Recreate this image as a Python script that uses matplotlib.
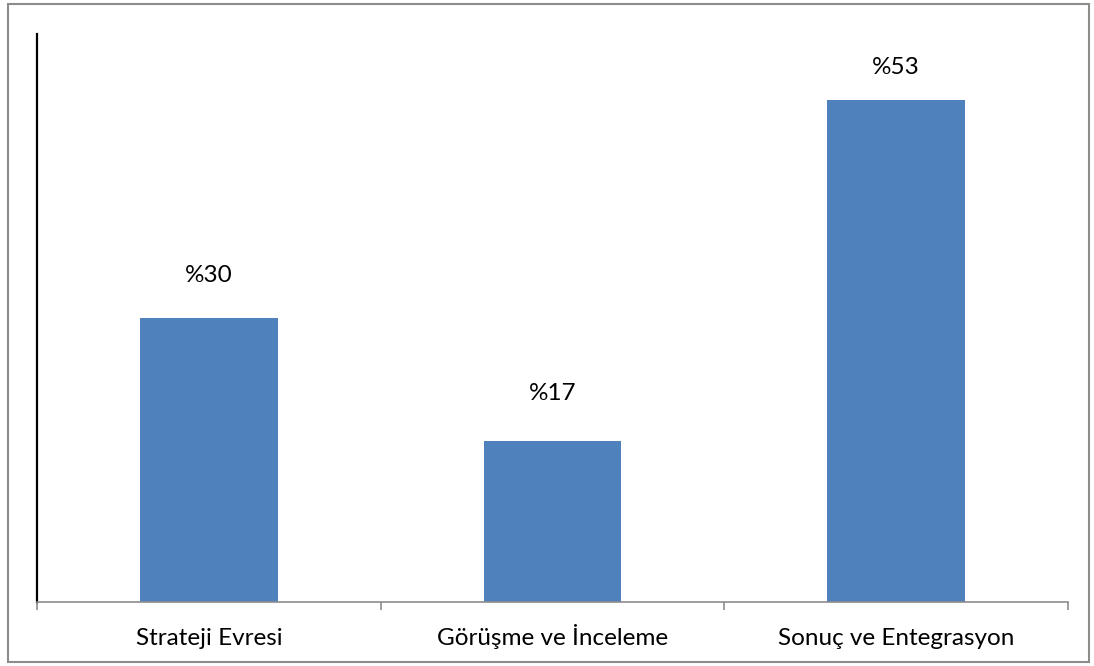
import matplotlib.pyplot as plt
from matplotlib.patches import Rectangle

categories = ['Strateji Evresi', 'Görüşme ve İnceleme', 'Sonuç ve Entegrasyon']
values = [30, 17, 53]
labels = ['%30', '%17', '%53']
label_pad = [43, 48, 33]  # px above bar top

plt.rcParams['font.family'] = ['Lato', 'DejaVu Sans']

fig = plt.figure(figsize=(10.94, 6.66), dpi=100)
fig.patch.set_facecolor('white')
fig.patches.append(Rectangle((8 / 1094, 4 / 666), 1081 / 1094, 658 / 666,
                             transform=fig.transFigure, fill=False,
                             edgecolor='#8c8c8c', linewidth=1.5))

ax = fig.add_axes([37 / 1094, 64 / 666, 1031 / 1094, 568 / 666])
x = range(len(categories))
ax.bar(x, values, width=0.4, color='#4f81bd', zorder=2)

ax.set_xlim(-0.5, 2.5)
ax.set_ylim(0, 60)

for i, (v, lab) in enumerate(zip(values, labels)):
    ax.annotate(lab, (i, v), xytext=(0, label_pad[i] * 0.72), textcoords='offset points',
                ha='center', va='center', fontsize=17.5, color='black')

# category names, baseline-aligned under the axis
for i, name in enumerate(categories):
    ax.annotate(name, (i, 0), xytext=(0, -43 * 0.72), textcoords='offset points',
                ha='center', va='baseline', fontsize=17.5, color='black',
                annotation_clip=False)

for side in ['top', 'right']:
    ax.spines[side].set_visible(False)
ax.spines['left'].set_color('black')
ax.spines['left'].set_linewidth(1.6)
ax.spines['bottom'].set_color('#8c8c8c')
ax.spines['bottom'].set_linewidth(1.2)

ax.set_yticks([])
ax.set_xticks([-0.5, 0.5, 1.5, 2.5])
ax.set_xticklabels([])
ax.tick_params(axis='x', length=6, width=1.2, color='#8c8c8c', direction='out')

fig.savefig('out.png', dpi=100)
